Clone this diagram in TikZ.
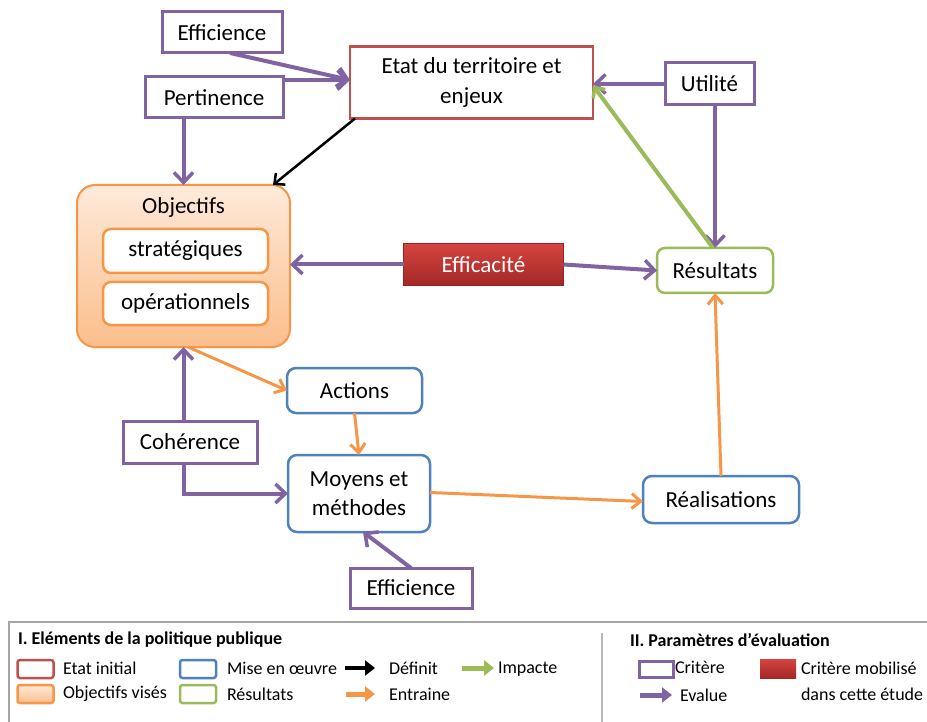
\documentclass[tikz,border=0pt]{standalone}
\usepackage{fontspec}
\setmainfont{Carlito}
\usetikzlibrary{arrows.meta,calc}
\definecolor{cpurple}{HTML}{8064A2}
\definecolor{corange}{HTML}{F79646}
\definecolor{cgreen}{HTML}{9BBB59}
\definecolor{cred}{HTML}{C0504D}
\definecolor{cblue}{HTML}{4F81BD}
\definecolor{redtop}{RGB}{214,68,64}
\definecolor{redbot}{RGB}{163,40,38}
\definecolor{peachtop}{RGB}{254,234,218}
\definecolor{peachbot}{RGB}{251,190,140}
\definecolor{cgrayline}{RGB}{165,165,165}
\begin{document}
\begin{tikzpicture}[x=1pt,y=-1pt,
  every node/.style={font=\fontsize{23}{29.5}\selectfont, inner sep=0pt, outer sep=0pt, align=center},
  sz/.style 2 args={minimum width=#1pt, minimum height=#2pt},
  crit/.style={draw=cpurple, line width=3pt, fill=white},
  etatbox/.style={draw=cred, line width=2.5pt, fill=white},
  objbox/.style={draw=corange, line width=2pt, rounded corners=18pt, top color=peachtop, bottom color=peachbot},
  inbox/.style={draw=corange, line width=2.5pt, rounded corners=8pt, fill=white},
  efficbox/.style={top color=redtop, bottom color=redbot, draw=redbot!90!black, line width=0.8pt, text=white},
  resbox/.style={draw=cgreen, line width=2.5pt, rounded corners=8pt, fill=white},
  mbox/.style={draw=cblue, line width=2.5pt, rounded corners=9pt, fill=white},
  evarr/.style={draw=cpurple, line width=4pt, -{Straight Barb[length=10pt,width=19pt,line width=3.5pt]}},
  entarr/.style={draw=corange, line width=3pt, -{Straight Barb[length=9pt,width=15pt,line width=3pt]}},
  defarr/.style={draw=black, line width=2.5pt, -{Straight Barb[length=8pt,width=15pt,line width=2.5pt]}},
  imparr/.style={draw=cgreen, line width=4pt, -{Straight Barb[length=8pt,width=15pt,line width=3.5pt]}},
  lgtxt/.style={font=\fontsize{18}{26}\selectfont, anchor=west, align=left},
  lgtitle/.style={font=\fontsize{18}{22}\selectfont\bfseries, anchor=west},
  lgbox/.style={line width=2.5pt, rounded corners=2.5pt, minimum width=36pt, minimum height=18pt},
  lgarr/.style={line width=5pt, -{Triangle[length=10pt,width=15pt]}}
]
\useasboundingbox (0,0) rectangle (927,722);

% ---------- main diagram ----------
\node[crit, sz={120}{41}] (eff1) at (222,32.5) {Efficience};
\node[crit, sz={138}{41}] (pert) at (214,97.5) {Pertinence};
\node[etatbox, sz={243}{72}] (etat) at (471.5,82.5) {Etat du territoire et\\enjeux};
\node[crit, sz={89}{42}] (util) at (709.5,84) {Utilité};

\node[objbox, sz={213}{162}] (obj) at (183.5,266) {};
\node (objt) at (183.5,207) {Objectifs};
\node[inbox, sz={165}{44}] (strat) at (185.5,251) {stratégiques};
\node[inbox, sz={165}{43}] (oper) at (185.5,303.5) {opérationnels};

\node[efficbox, sz={160}{42}] (effic) at (483.5,264.5) {Efficacité};
\node[resbox, sz={116}{45}] (res) at (715,270.5) {Résultats};

\node[mbox, sz={135}{45}] (act) at (354.5,390.5) {Actions};
\node[mbox, sz={142}{77}] (moy) at (359,493.5) {Moyens et\\méthodes};
\node[crit, sz={134}{42}] (coh) at (190,442) {Cohérence};
\node[crit, sz={122}{40}] (eff2) at (411,588) {Efficience};
\node[mbox, sz={156}{47}] (real) at (721,499.5) {Réalisations};

% ---------- connectors ----------
\draw[evarr] ([xshift=8pt]eff1.south) -- ([yshift=2.5pt]etat.west);
\draw[evarr] (pert.east |- 0,80) -- ([yshift=2.5pt]etat.west);
\draw[evarr] (obj.north |- pert.south) -- (obj.north);
\draw[defarr] ([xshift=5pt]etat.south west) -- ([xshift=-17pt]obj.north east);
\draw[evarr] (util.west) -- (etat.east |- util.west);
\draw[evarr] (res.north |- util.south) -- (res.north);
\draw[imparr] ([xshift=-2pt]res.north) -- ([yshift=-3pt]etat.east);
\draw[evarr] (effic.west) -- (obj.east |- effic.west);
\draw[evarr] (effic.east) -- (res.west);
\draw[entarr] ([xshift=4.5pt]obj.south) -- (act.west);
\draw[evarr] (obj.south |- coh.north) -- (obj.south);
\draw[evarr] (obj.south |- coh.south) -- (obj.south |- moy.west) -- (moy.west);
\draw[entarr] (act.south) -- (moy.north);
\draw[evarr] (eff2.north) -- ([xshift=4pt]moy.south);
\draw[entarr] ([yshift=1pt]moy.east) -- ([yshift=-2pt]real.west);
\draw[entarr] (real.north) -- (res.south);

% ---------- legend ----------
\coordinate (lgc1) at (9,722);
\coordinate (lgc2) at (9,622);
\coordinate (lgc3) at (927,622);
\coordinate (lgs1) at (602,633);
\coordinate (lgs2) at (602,722);
\draw[cgrayline, line width=1.5pt] (lgc1) -- (lgc2) -- (lgc3);
\draw[cgrayline!80, line width=1.2pt] (lgs1) -- (lgs2);

\node[lgtitle] (lt1) at (18,640) {I. Eléments de la politique publique};
\node[lgtitle] (lt2) at (630,640) {II. Paramètres d’évaluation};

\node[lgbox, draw=cred, fill=white] (lgb1) at (35.5,669) {};
\node[lgtxt] (lgt1) at (63,668) {Etat initial};
\node[lgbox, draw=corange, top color=peachtop, bottom color=peachbot] (lgb2) at (35.5,694) {};
\node[lgtxt] (lgt2) at (63,694) {Objectifs visés};
\node[lgbox, draw=cblue, fill=white] (lgb3) at (198,669) {};
\node[lgtxt] (lgt3) at (227,668) {Mise en œuvre};
\node[lgbox, draw=cgreen, fill=white] (lgb4) at (198,694) {};
\node[lgtxt] (lgt4) at (227,694) {Résultats};

\coordinate (la1s) at (345,668); \coordinate (la1e) at (375,668);
\draw[lgarr, black, line width=3.5pt] (la1s) -- (la1e);
\node[lgtxt] (lgt5) at (389,668) {Définit};
\coordinate (la2s) at (346,694); \coordinate (la2e) at (375,694);
\draw[lgarr, corange] (la2s) -- (la2e);
\node[lgtxt] (lgt6) at (389,694) {Entraine};
\coordinate (la3s) at (462,668); \coordinate (la3e) at (494,668);
\draw[lgarr, cgreen] (la3s) -- (la3e);
\node[lgtxt] (lgt7) at (498,669) {Impacte};

\node[lgbox, draw=cpurple, fill=white, line width=3pt, rounded corners=0pt, minimum width=34pt, minimum height=16pt] (lgb5) at (656,669) {};
\node[lgtxt] (lgt8) at (675,667) {Critère};
\coordinate (la4s) at (640,695); \coordinate (la4e) at (672,695);
\draw[lgarr, cpurple] (la4s) -- (la4e);
\node[lgtxt] (lgt9) at (680,695) {Evalue};
\node[lgbox, top color=redtop, bottom color=redbot, rounded corners=0pt, line width=0pt, minimum height=19pt] (lgb6) at (778,668.5) {};
\node[lgtxt, anchor=north west] (lgt10) at (801,662) {Critère mobilisé\\dans cette étude};
\end{tikzpicture}
\end{document}
